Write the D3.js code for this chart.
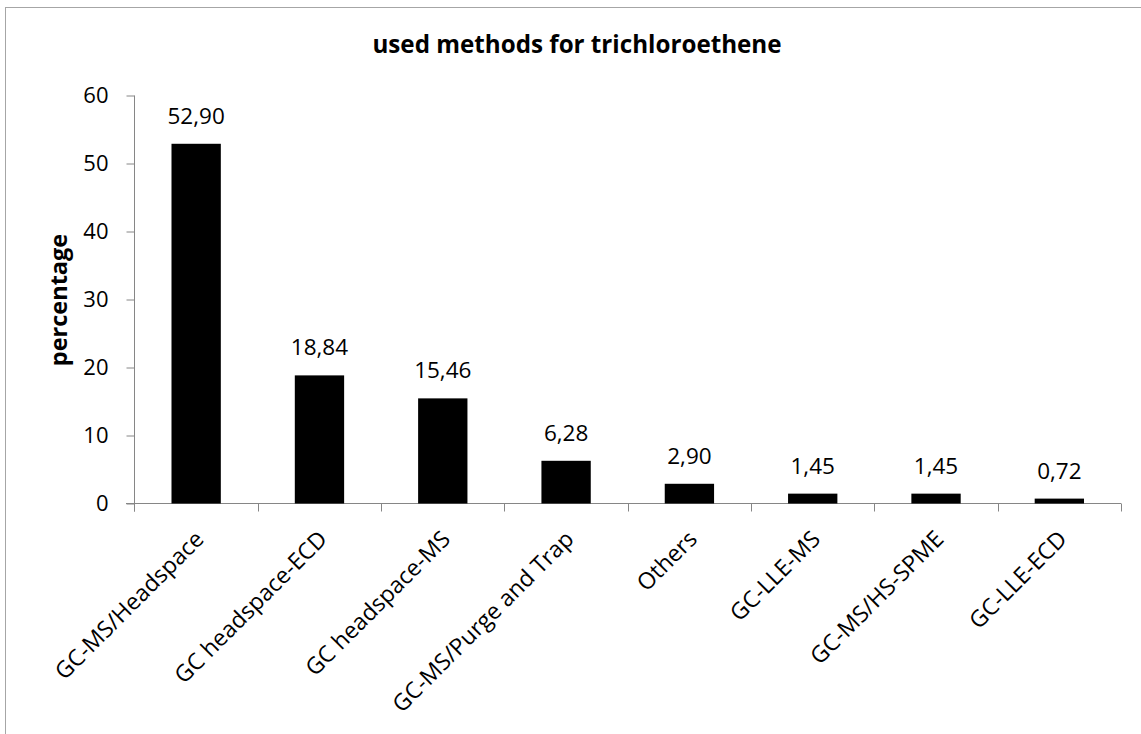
<!DOCTYPE html>
<html>
<head>
<meta charset="utf-8">
<script src="https://cdn.jsdelivr.net/npm/d3@7"></script>
<style>
  html, body { margin: 0; padding: 0; background: #fff; }
  svg { display: block; font-family: "Open Sans", sans-serif; }
</style>
</head>
<body>
<svg id="chart" width="1141" height="734"></svg>
<script>
const categories = ["GC-MS/Headspace", "GC headspace-ECD", "GC headspace-MS", "GC-MS/Purge and Trap", "Others", "GC-LLE-MS", "GC-MS/HS-SPME", "GC-LLE-ECD"];
const values = [52.90, 18.84, 15.46, 6.28, 2.90, 1.45, 1.45, 0.72];
const valueLabels = ["52,90", "18,84", "15,46", "6,28", "2,90", "1,45", "1,45", "0,72"];
const yTicks = [0, 10, 20, 30, 40, 50, 60];
const title = "used methods for trichloroethene";
const yTitle = "percentage";

const svg = d3.select("#chart");
const axisColor = "#868686";

// frame border (extends beyond the visible area right and bottom)
svg.append("rect")
  .attr("x", 5.5).attr("y", 7.5)
  .attr("width", 1200).attr("height", 800)
  .attr("fill", "none").attr("stroke", "#a6a6a6").attr("stroke-width", 1);

const x = d3.scaleBand().domain(categories).range([134.5, 1121]).paddingInner(0.6).paddingOuter(0.3);
const y = d3.scaleLinear().domain([0, 60]).range([503.5, 95.5]);

// title
svg.append("text")
  .attr("x", 577).attr("y", 53)
  .attr("text-anchor", "middle")
  .attr("font-weight", "bold").attr("font-size", 24.2)
  .text(title);

// y axis
const yAxis = svg.append("g").attr("transform", "translate(134.5,0)")
  .call(d3.axisLeft(y).tickValues(yTicks).tickSize(8).tickPadding(18).tickFormat(d3.format("d")));
yAxis.select(".domain").attr("stroke", axisColor).attr("d", "M0,95.5V511.5");
yAxis.selectAll(".tick line").attr("stroke", axisColor);
yAxis.selectAll(".tick text").attr("font-size", 22).attr("fill", "#000").attr("font-family", "Open Sans");

// x axis with ticks at category boundaries
const xAxisG = svg.append("g").attr("transform", "translate(0,503.5)");
xAxisG.append("path").attr("d", "M126,0H1121").attr("stroke", axisColor).attr("fill", "none");
const step = x.step();
const boundaries = d3.range(categories.length + 1).map(i => x(categories[0]) - x.paddingOuter() * step + i * step);
xAxisG.selectAll("line.bt").data(boundaries).join("line")
  .attr("class", "bt")
  .attr("x1", d => Math.round(d) + 0.5).attr("x2", d => Math.round(d) + 0.5)
  .attr("y1", 0).attr("y2", 8)
  .attr("stroke", axisColor);

// category labels
xAxisG.selectAll("text.cat").data(categories).join("text")
  .attr("class", "cat")
  .attr("text-anchor", "end")
  .attr("font-size", 23)
  .attr("transform", d => `translate(${x(d) + x.bandwidth() / 2 + 9},${37}) rotate(-45)`)
  .text(d => d);

// bars
svg.selectAll("rect.bar").data(values).join("rect")
  .attr("class", "bar")
  .attr("x", (d, i) => x(categories[i]))
  .attr("width", x.bandwidth())
  .attr("y", d => y(d))
  .attr("height", d => y(0) - y(d))
  .attr("fill", "#000");

// value labels
svg.selectAll("text.val").data(values).join("text")
  .attr("class", "val")
  .attr("text-anchor", "middle")
  .attr("font-size", 22.5)
  .attr("x", (d, i) => x(categories[i]) + x.bandwidth() / 2)
  .attr("y", d => y(d) - 20)
  .text((d, i) => valueLabels[i]);

// y title
svg.append("text")
  .attr("transform", "translate(67,300) rotate(-90)")
  .attr("text-anchor", "middle")
  .attr("font-weight", "bold").attr("font-size", 23.5)
  .text(yTitle);
</script>
</body>
</html>
